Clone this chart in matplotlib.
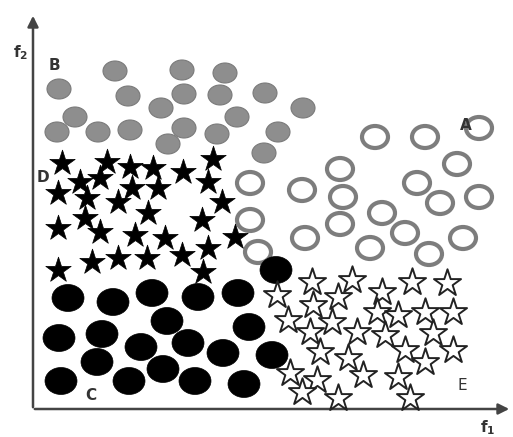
import matplotlib
matplotlib.use("Agg")
import matplotlib.pyplot as plt
from matplotlib.patches import Ellipse

# clase B: circulos grises
b_f1 = [82, 149, 192, 26, 95, 151, 187, 232, 270, 128, 42, 204, 24, 65, 97, 151, 184, 245, 135, 231]
b_f2 = [338, 339, 336, 320, 313, 315, 314, 316, 301, 301, 292, 292, 277, 277, 279, 281, 275, 277, 265, 256]

# clase A: circulos abiertos
a_f1 = [342, 392, 446, 424, 307, 217, 269, 310, 384, 407, 446, 349, 217, 307, 272, 372, 430, 337, 225, 396]
a_f2 = [272, 272, 281, 245, 240, 226, 219, 212, 226, 206, 212, 196, 189, 185, 171, 176, 171, 161, 157, 155]

# clase C: circulos negros
c_f1 = [35, 80, 119, 165, 205, 134, 216, 26, 69, 108, 155, 190, 239, 64, 130, 28, 96, 162, 211, 243]
c_f2 = [111, 107, 116, 112, 116, 88, 82, 71, 75, 62, 66, 56, 54, 47, 40, 28, 28, 28, 25, 139]

# clase D: estrellas negras
d_f1 = [29, 74, 97, 120, 150, 180, 47, 67, 25, 54, 85, 99, 125, 175, 189,
        115, 169, 52, 67, 25, 102, 132, 202, 149, 175, 59, 85, 114, 25, 170]
d_f2 = [246, 247, 242, 241, 237, 250, 227, 231, 216, 211, 207, 221, 221, 227, 207,
        196, 189, 191, 177, 181, 174, 171, 172, 154, 161, 147, 151, 151, 139, 137]

# clase E: estrellas abiertas
e_f1 = [279, 319, 379, 414, 244, 305, 349, 280, 344, 365, 392, 420, 255, 299, 277,
        324, 352, 400, 287, 315, 372, 392, 420, 257, 284, 330, 365, 269, 305, 377]
e_f2 = [127, 129, 127, 126, 114, 112, 117, 104, 97, 94, 97, 97, 89, 87, 77,
        77, 74, 76, 57, 51, 59, 47, 59, 36, 29, 34, 32, 17, 11, 11]

fig = plt.figure(figsize=(5.13, 4.37), dpi=100)
ax = fig.add_axes([0, 0, 1, 1])
ax.set_xlim(-33, 480)
ax.set_ylim(-28, 409)
ax.axis("off")

for x, y in zip(b_f1, b_f2):
    ax.add_patch(Ellipse((x, y), 24, 20, facecolor="#8e8e8e", edgecolor="#7a7a7a", lw=0.8, zorder=2))

for x, y in zip(a_f1, a_f2):
    ax.add_patch(Ellipse((x, y), 26, 22, facecolor="white", edgecolor="#7d7d7d", lw=3.0, zorder=2))

ax.scatter(d_f1, d_f2, marker="*", s=370, color="black", edgecolors="black", linewidths=0.5, zorder=3)

for x, y in zip(c_f1, c_f2):
    ax.add_patch(Ellipse((x, y), 32, 27, facecolor="black", edgecolor="black", lw=0.5, zorder=4))

ax.scatter(e_f1, e_f2, marker="*", s=420, facecolor="white", edgecolors="#222222", linewidths=1.4, zorder=5)

# ejes con flechas
ax.annotate("", xy=(0, 396), xytext=(0, -1),
            arrowprops=dict(arrowstyle="-|>", color="#444444", lw=1.8, mutation_scale=16), zorder=1)
ax.annotate("", xy=(479, 0), xytext=(-1, 0),
            arrowprops=dict(arrowstyle="-|>", color="#444444", lw=1.8, mutation_scale=16), zorder=1)

# etiquetas
ax.text(-12, 356, r"$\mathbf{f_2}$", ha="center", va="center", fontsize=11, color="#333333")
ax.text(455, -19, r"$\mathbf{f_1}$", ha="center", va="center", fontsize=11, color="#333333")
ax.text(21, 344, "B", ha="center", va="center", fontsize=11, fontweight="bold", color="#333333")
ax.text(433, 284, "A", ha="center", va="center", fontsize=11, fontweight="bold", color="#333333")
ax.text(10, 232, "D", ha="center", va="center", fontsize=11, fontweight="bold", color="#333333")
ax.text(58, 13, "C", ha="center", va="center", fontsize=11, fontweight="bold", color="#333333")
ax.text(429, 23, "E", ha="center", va="center", fontsize=11, color="#333333")

fig.savefig("out.png", dpi=100)
